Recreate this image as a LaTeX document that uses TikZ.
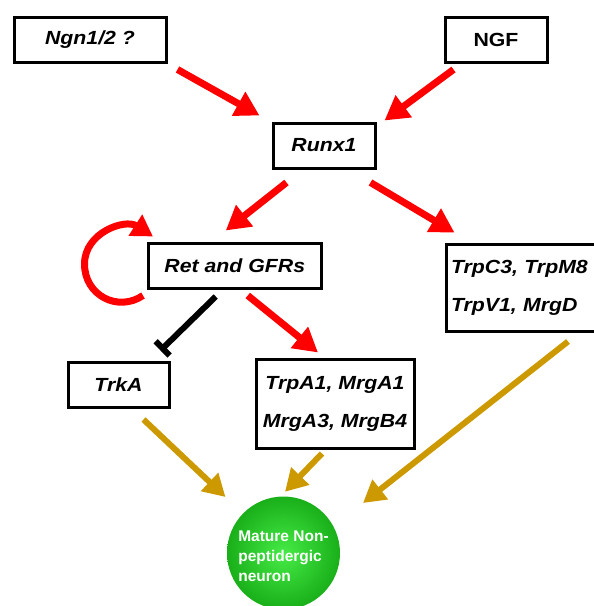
\documentclass[tikz,border=0pt]{standalone}
\usepackage{fontspec}
\newfontfamily\labfont[FakeStretch=1.12]{Liberation Sans}
\newfontfamily\neufont{Liberation Sans}
\usetikzlibrary{arrows.meta,calc}
\definecolor{arred}{RGB}{255,0,0}
\definecolor{argold}{RGB}{204,153,0}
\definecolor{greenin}{RGB}{70,235,70}
\definecolor{greenout}{RGB}{25,175,25}
\begin{document}
\begin{tikzpicture}[x=1pt,y=-1pt,
  genebox/.style={draw=black,line width=3pt,fill=white,inner sep=0pt,
    font=\labfont\bfseries\itshape\fontsize{19}{38}\selectfont},
  listbox/.style={genebox,align=left,inner xsep=5pt},
  actarrow/.style={draw=arred,line width=7pt,-{Triangle[length=24pt,width=26pt]}},
  goldarrow/.style={draw=argold,line width=6pt,-{Triangle[length=22pt,width=24pt]}},
  inhibit/.style={draw=black,line width=6pt,-{Bar[width=20pt]}}]
\useasboundingbox (0,0) rectangle (594,606);
% boxes
\node[genebox,minimum width=152pt,minimum height=45pt] (ngn) at (90,39.5) {Ngn1/2 ?};
\node[genebox,minimum width=102pt,minimum height=45pt,font=\labfont\bfseries\fontsize{19}{38}\selectfont] (ngf) at (496,39.5) {NGF};
\node[genebox,minimum width=102pt,minimum height=45pt] (runx) at (324,145.5) {Runx1};
\node[genebox,minimum width=172.5pt,minimum height=45pt] (ret) at (234.75,265.5) {Ret and GFRs};
\node[listbox,text width=144pt,minimum height=87pt] (trpc) at (523,287.5) {TrpC3, TrpM8\\TrpV1, MrgD};
\node[genebox,minimum width=101pt,minimum height=45pt] (trka) at (118.5,384.5) {TrkA};
\node[genebox,align=center,minimum width=158pt,minimum height=89pt] (trpa) at (335,403.5) {TrpA1, MrgA1\\MrgA3, MrgB4};
\node[circle,minimum size=113pt,inner sep=0pt,shading=radial,inner color=greenin,outer color=greenout,
  text=white,align=left,font=\neufont\bfseries\fontsize{15.5}{20}\selectfont] (neuron) at (283.5,553)
  {\\[-2pt]Mature Non-\\peptidergic\\neuron};
% red activation arrows
\draw[actarrow] ($(ngn.south east)+(10,6)$) -- ($(runx.north west)+(-12,-6)$);
\draw[actarrow] ($(ngf.south west)+(10,6)$) -- ($(runx.north east)+(8,-1)$);
\draw[actarrow] ($(runx.south west)+(15,13)$) -- ($(ret.north)+(-9,-11)$);
\draw[actarrow] ($(runx.south east)+(-6,13)$) -- ($(trpc.north west)+(10,-10)$);
\draw[actarrow] ($(ret.south)+(13,6)$) -- ($(trpa.north)+(-17,-5)$);
% self loop
\draw[draw=arred,line width=7pt,-{Triangle[length=21pt,width=24pt]}]
  ($(ret.south west)+(-4,6)$) .. controls ($(ret.south west)+(-29,23)$) and ($(ret.south west)+(-62.5,6)$) ..
  ($(ret.west)+(-62.5,-1.5)$) .. controls ($(ret.north west)+(-62.5,-9)$) and ($(ret.north west)+(-22,-23)$) ..
  ($(ret.north west)+(6,-5)$);
% inhibition
\draw[inhibit] ($(ret.south)+(-19,7)$) -- ($(trka.north east)+(-10,-10)$);
% gold arrows
\draw[goldarrow] ($(trka.south)+(25,11)$) -- ($(neuron.center)+(-58,-56)$);
\draw[goldarrow] ($(trpa.south)+(-13,4)$) -- ($(neuron.north)+(1.5,-4.5)$);
\draw[goldarrow] ($(trpc.south)+(45,9)$) -- ($(neuron.center)+(79.5,-50)$);
\end{tikzpicture}
\end{document}
